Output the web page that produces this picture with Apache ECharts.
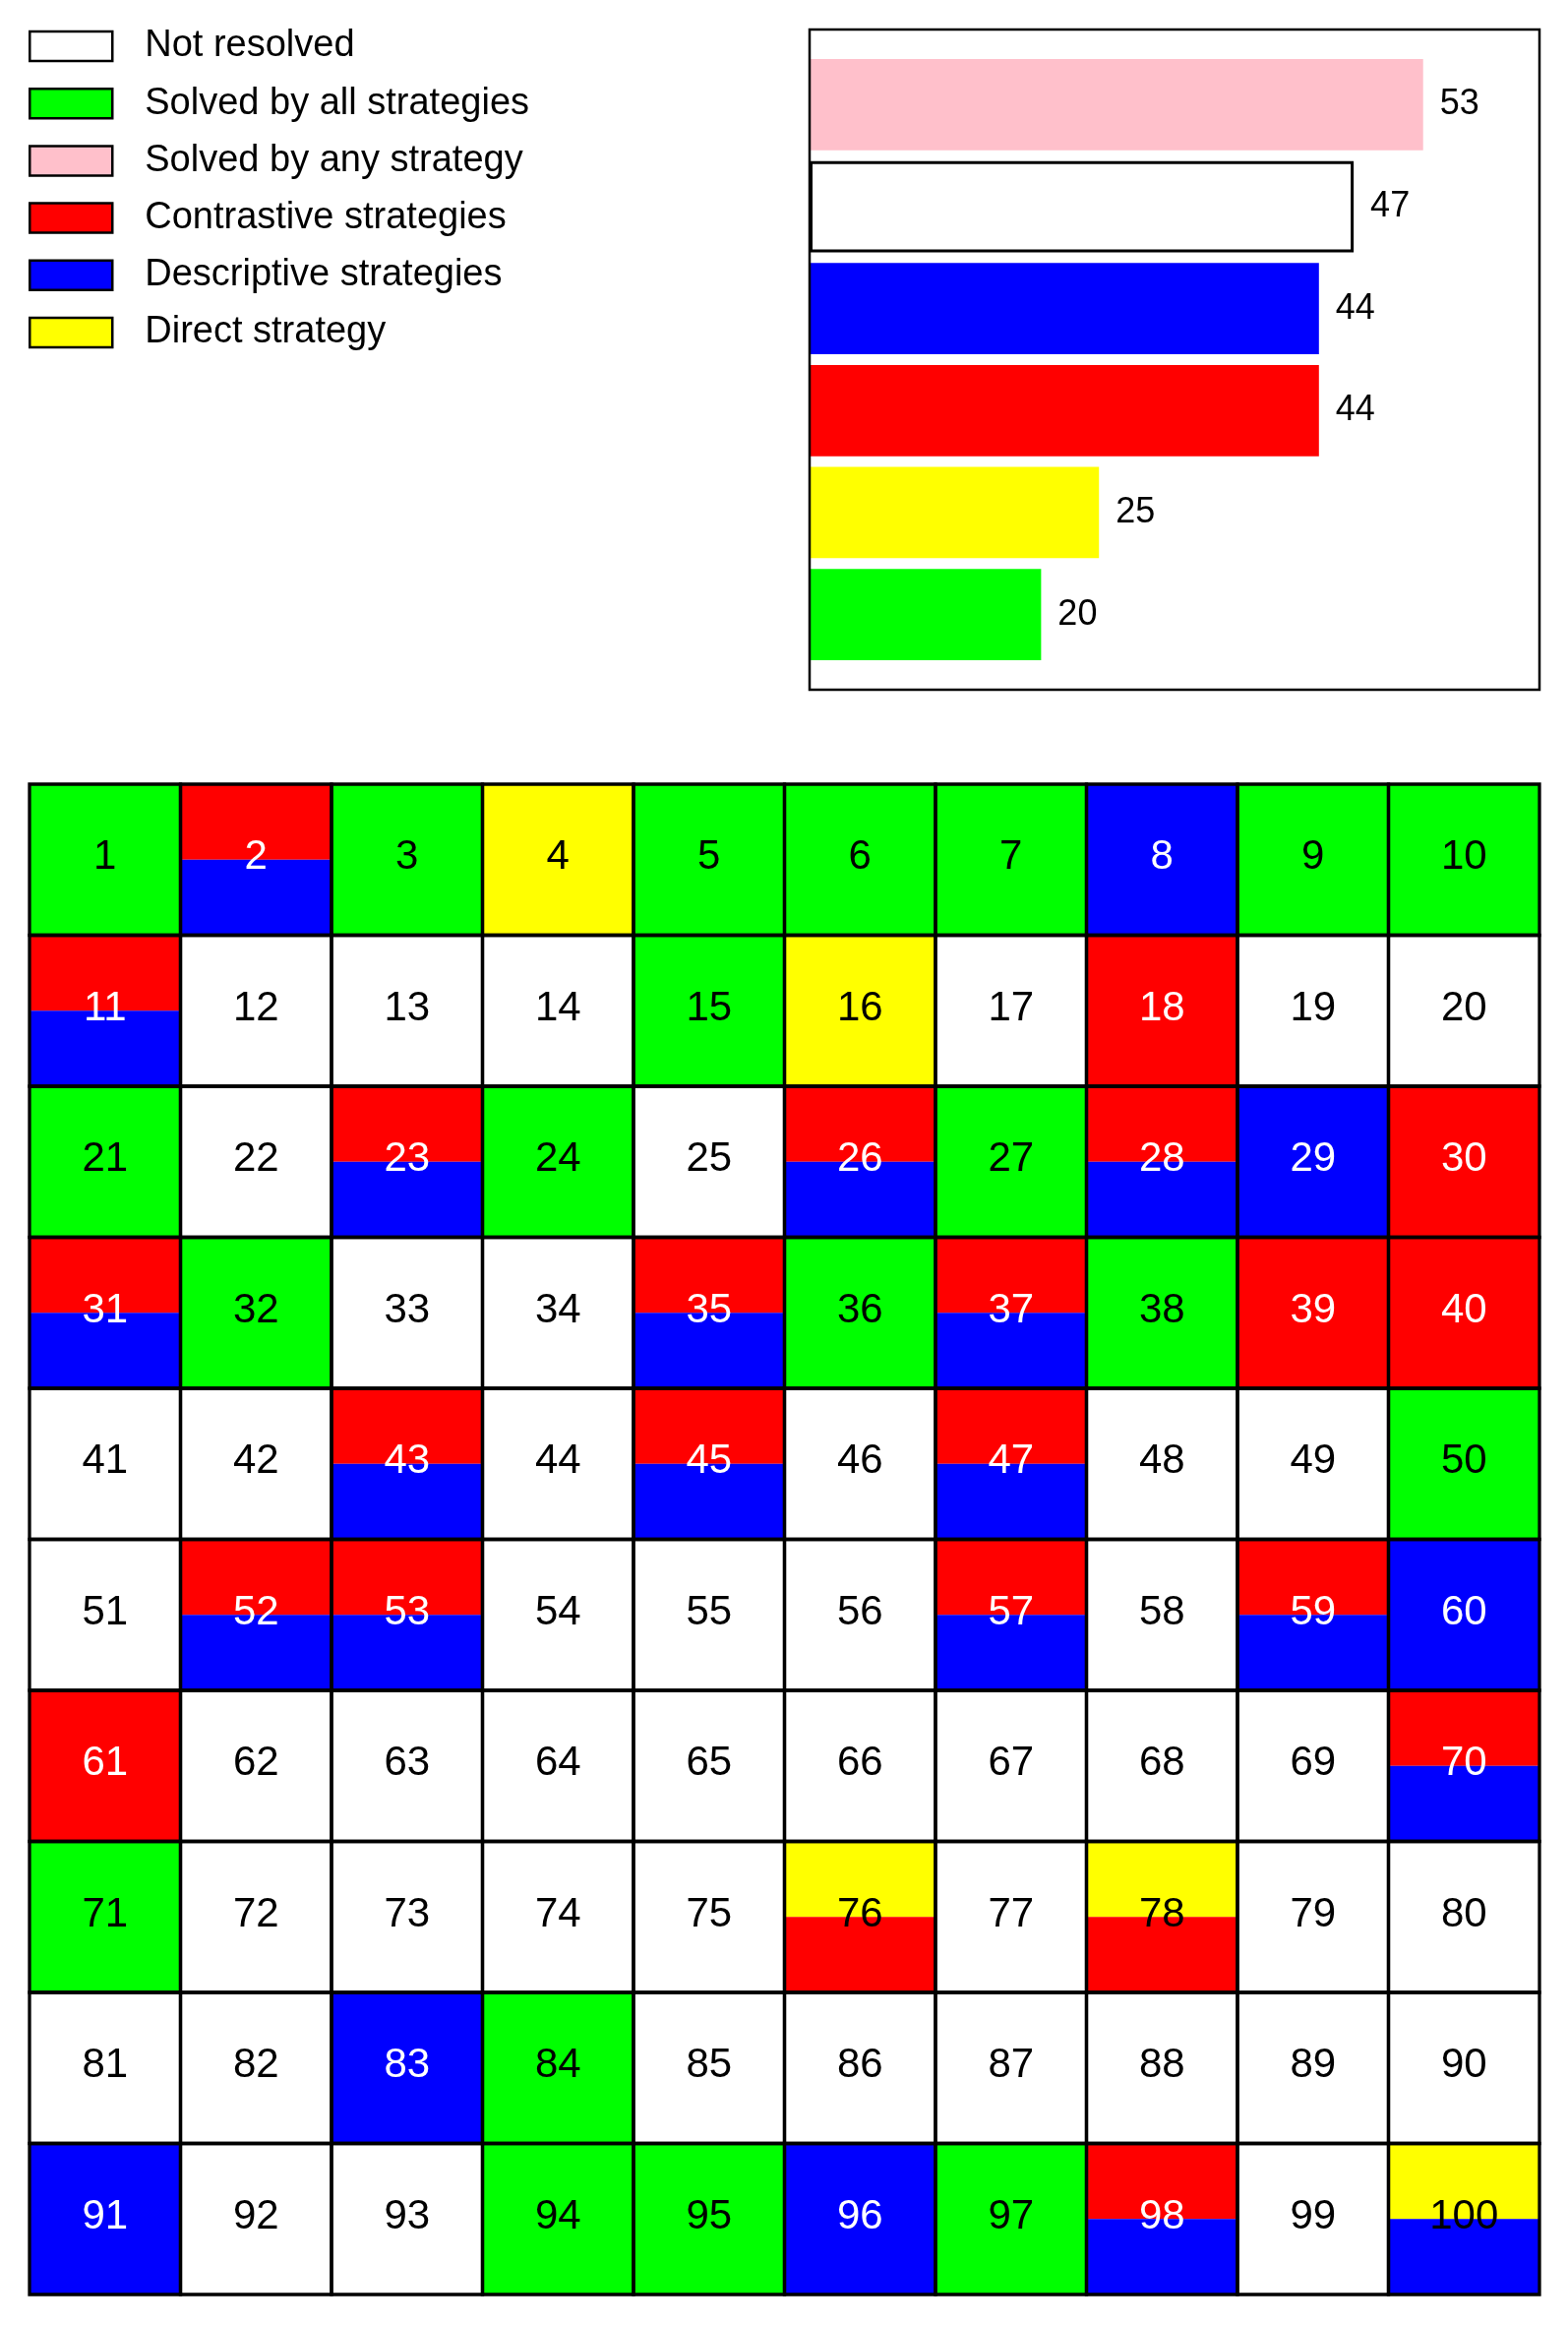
<!DOCTYPE html>
<html><head><meta charset="utf-8">
<script src="https://cdn.jsdelivr.net/npm/echarts@6/dist/echarts.min.js"></script>
<style>html,body{margin:0;padding:0;background:#fff}#c{width:1594px;height:2363px}</style>
</head><body><div id="c"></div><script>
// ---------- data ----------
const legendNames = ['Not resolved', 'Solved by all strategies', 'Solved by any strategy',
  'Contrastive strategies', 'Descriptive strategies', 'Direct strategy'];
const barCategories = ['Solved by any strategy', 'Not resolved', 'Descriptive strategies',
  'Contrastive strategies', 'Direct strategy', 'Solved by all strategies'];
const barValues = [53, 47, 44, 44, 25, 20];
// puzzles solved by every strategy
const solvedByAll = [1, 3, 5, 6, 7, 9, 10, 15, 21, 24, 27, 32, 36, 38, 50, 71, 84, 94, 95, 97];
// puzzles (besides the above) solved by each strategy
const directSolved = [4, 16, 76, 78, 100];
const contrastiveSolved = [2, 11, 18, 23, 26, 28, 30, 31, 35, 37, 39, 40, 43, 45, 47, 52, 53, 57, 59, 61, 70, 76, 78, 98];
const descriptiveSolved = [2, 8, 11, 23, 26, 28, 29, 31, 35, 37, 43, 45, 47, 52, 53, 57, 59, 60, 70, 83, 91, 96, 98, 100];
const gridColumns = ['1', '2', '3', '4', '5', '6', '7', '8', '9', '10'];
const gridRows = ['1', '2', '3', '4', '5', '6', '7', '8', '9', '10'];

// ---------- styles ----------
const colorOf = {
  'Not resolved': '#ffffff',
  'Solved by all strategies': '#00ff00',
  'Solved by any strategy': '#ffc0cb',
  'Contrastive strategies': '#ff0000',
  'Descriptive strategies': '#0000ff',
  'Direct strategy': '#ffff00'
};
const FONT = '"Liberation Sans", Arial, sans-serif';

// ---------- cells ----------
const cellData = [];
for (let r = 0; r < gridRows.length; r++) {
  for (let c = 0; c < gridColumns.length; c++) {
    const n = r * gridColumns.length + c + 1;
    let fills, textColor;
    if (solvedByAll.includes(n)) {
      fills = [colorOf['Solved by all strategies']];
      textColor = '#000';
    } else {
      fills = [];
      if (directSolved.includes(n)) fills.push(colorOf['Direct strategy']);
      if (contrastiveSolved.includes(n)) fills.push(colorOf['Contrastive strategies']);
      if (descriptiveSolved.includes(n)) fills.push(colorOf['Descriptive strategies']);
      if (fills.length === 0) { fills = [colorOf['Not resolved']]; textColor = '#000'; }
      else textColor = directSolved.includes(n) ? '#000' : '#fff';
    }
    cellData.push({ value: [c, r], n: n, fills: fills, textColor: textColor });
  }
}

function renderCell(params, api) {
  const item = cellData[params.dataIndex];
  const ctr = api.coord([api.value(0), api.value(1)]);
  const sz = api.size([1, 1]);
  const x0 = ctr[0] - sz[0] / 2, y0 = ctr[1] - sz[1] / 2;
  const h = sz[1] / item.fills.length;
  const children = item.fills.map((f, i) => ({
    type: 'rect', z2: 1,
    shape: { x: x0, y: y0 + i * h, width: sz[0], height: h },
    style: { fill: f }
  }));
  children.push({
    type: 'rect', z2: 10,
    shape: { x: x0, y: y0, width: sz[0], height: sz[1] },
    style: { fill: null, stroke: '#000', lineWidth: 3.3 }
  });
  children.push({
    type: 'text', z2: 20,
    style: {
      text: String(item.n), x: ctr[0], y: ctr[1] - 2, align: 'center', verticalAlign: 'middle',
      fill: item.textColor, fontSize: 42, fontFamily: FONT
    }
  });
  return { type: 'group', children: children };
}

// ---------- bar series (one per category, stacked so each fills its band) ----------
const barSeries = barCategories.map((name, idx) => {
  const isNot = name === 'Not resolved';
  return {
    name: name,
    type: 'bar',
    stack: 'one',
    xAxisIndex: 0, yAxisIndex: 0,
    barCategoryGap: '10.5%',
    silent: true,
    itemStyle: isNot
      ? { color: '#ffffff', borderColor: '#000', borderWidth: 3 }
      : { color: colorOf[name] },
    label: {
      show: true, position: 'right', distance: 17, color: '#000',
      fontSize: 36, fontFamily: FONT
    },
    data: barCategories.map((c, j) => (j === idx ? barValues[idx] : '-'))
  };
});

const chart = echarts.init(document.getElementById('c'), null, { renderer: 'canvas' });
chart.setOption({
  animation: false,
  backgroundColor: '#fff',
  legend: {
    orient: 'vertical', left: 29, top: 28, padding: 0,
    itemWidth: 84, itemHeight: 30, itemGap: 20.2,
    selectedMode: false,
    icon: 'rect',
    textStyle: { fontSize: 38, lineHeight: 38, fontFamily: FONT, color: '#000', padding: [0, 0, 0, 28] },
    data: legendNames.map(n => ({
      name: n, icon: 'rect',
      itemStyle: { color: colorOf[n], borderColor: '#000', borderWidth: 2.5 }
    }))
  },
  grid: [
    { left: 823, top: 54.6, width: 742, height: 621.8, containLabel: false },
    { left: 30, top: 797, width: 1535, height: 1535, containLabel: false }
  ],
  xAxis: [
    { type: 'value', gridIndex: 0, min: 0, max: 63.05, show: false },
    { type: 'category', gridIndex: 1, data: gridColumns, show: false }
  ],
  yAxis: [
    { type: 'category', gridIndex: 0, data: barCategories, inverse: true, show: false },
    { type: 'category', gridIndex: 1, data: gridRows, inverse: true, show: false }
  ],
  graphic: [{
    type: 'rect', z: 100, silent: true,
    shape: { x: 823, y: 30, width: 742, height: 671 },
    style: { fill: null, stroke: '#000', lineWidth: 2.5 }
  }],
  series: barSeries.concat([{
    type: 'custom',
    name: 'cells',
    xAxisIndex: 1, yAxisIndex: 1,
    silent: true,
    renderItem: renderCell,
    data: cellData.map(d => d.value)
  }])
});
</script></body></html>
